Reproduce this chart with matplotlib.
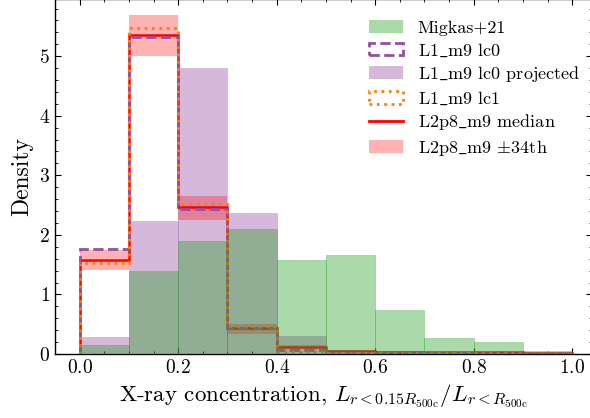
import numpy as np
import matplotlib
matplotlib.use('Agg')
import matplotlib.pyplot as plt
from matplotlib.patches import Patch

### Binned densities (bin width 0.1)
bin_edges = np.linspace(0.0, 1.0, 11)
migkas21 = [0.15, 1.40, 1.89, 2.10, 1.57, 1.67, 0.74, 0.27, 0.20, 0.05]
l1_lc0 = [1.76, 5.32, 2.44, 0.44, 0.06, 0.02, 0.01, 0.01, 0.005, 0.005]
l1_lc0_proj = [0.29, 2.24, 4.80, 2.37, 0.30, 0.0, 0.0, 0.0, 0.0, 0.0]
l1_lc1 = [1.53, 5.47, 2.51, 0.47, 0.04, 0.01, 0.01, 0.01, 0.01, 0.005]
l2p8_median = [1.58, 5.36, 2.46, 0.44, 0.11, 0.055, 0.04, 0.03, 0.03, 0.01]
l2p8_lo = [1.41, 5.00, 2.25, 0.34, 0.08, 0.03, 0.02, 0.01, 0.01, 0.0]
l2p8_hi = [1.74, 5.69, 2.66, 0.50, 0.15, 0.07, 0.05, 0.04, 0.04, 0.015]

labels = ['Migkas+21', r'L1$\_$m9 lc0', r'L1$\_$m9 lc0 projected', r'L1$\_$m9 lc1',
          r'L2p8$\_$m9 median', r'L2p8$\_$m9 $\pm$34th']

purple = '#984ea3'
orange = '#ff7f00'

plt.rcParams['font.family'] = ['cmr10', 'DejaVu Serif']
plt.rcParams['mathtext.fontset'] = 'cm'
plt.rcParams['axes.formatter.use_mathtext'] = True
plt.rcParams['axes.unicode_minus'] = False
plt.rcParams['font.size'] = 14

fig = plt.figure(figsize=(5.9, 4.18), dpi=100)
ax = fig.add_axes([55/590, 64/418, 537/590, 355/418])

centers = bin_edges[:-1]
width = np.diff(bin_edges)

ax.bar(centers, l1_lc0_proj, width=width, align='edge', color=purple,
       alpha=0.4, linewidth=0.4, edgecolor=purple, zorder=1)
ax.stairs(l2p8_median, bin_edges, color='red', lw=1.8, zorder=1.8)
ax.stairs(l2p8_hi, bin_edges, baseline=l2p8_lo, fill=True, color='red',
          alpha=0.3, lw=0, zorder=1.9)
ax.hist(centers, bins=bin_edges, weights=l1_lc0, histtype='step',
        color=purple, ls='--', lw=2, zorder=2)
ax.hist(centers, bins=bin_edges, weights=l1_lc1, histtype='step',
        color=orange, ls=':', lw=2, zorder=2.1)
ax.bar(centers, migkas21, width=width, align='edge', color='tab:green',
       alpha=0.4, linewidth=0.5, edgecolor='tab:green', zorder=3)

handles = [Patch(facecolor='tab:green', alpha=0.4),
           Patch(fill=False, edgecolor=purple, ls='--', lw=2),
           Patch(facecolor=purple, alpha=0.4),
           Patch(fill=False, edgecolor=orange, ls=':', lw=2),
           plt.Line2D([], [], color='red', lw=2),
           Patch(facecolor='red', alpha=0.3)]
ax.legend(handles, labels, loc='upper right', frameon=False, fontsize=13,
          labelspacing=0.3, handlelength=1.9,
          bbox_to_anchor=(1.0 + 4/537, 1.0 - 5/355))

ax.set_xlim(-0.05, 1.04)
ax.set_ylim(0, 5.96)
ax.set_xticks(np.arange(0, 1.01, 0.2))
ax.set_xticks(np.arange(0, 1.04, 0.05), minor=True)
ax.set_yticks(np.arange(0, 6, 1))
ax.set_yticks(np.arange(0, 5.96, 0.2), minor=True)
ax.tick_params(which='both', direction='in', top=True, right=True, labelsize=14)
ax.tick_params(which='major', length=4.5, width=0.8)
ax.tick_params(which='minor', length=2.2, width=0.6)
for s in ax.spines.values():
    s.set_linewidth(1.0)

ax.set_xlabel(r'X-ray concentration, $L_{r<0.15R_{\rm 500c}}/L_{r<R_{\rm 500c}}$', fontsize=16.5)
ax.set_ylabel('Density', fontsize=17)

fig.savefig('out.png', dpi=100)
